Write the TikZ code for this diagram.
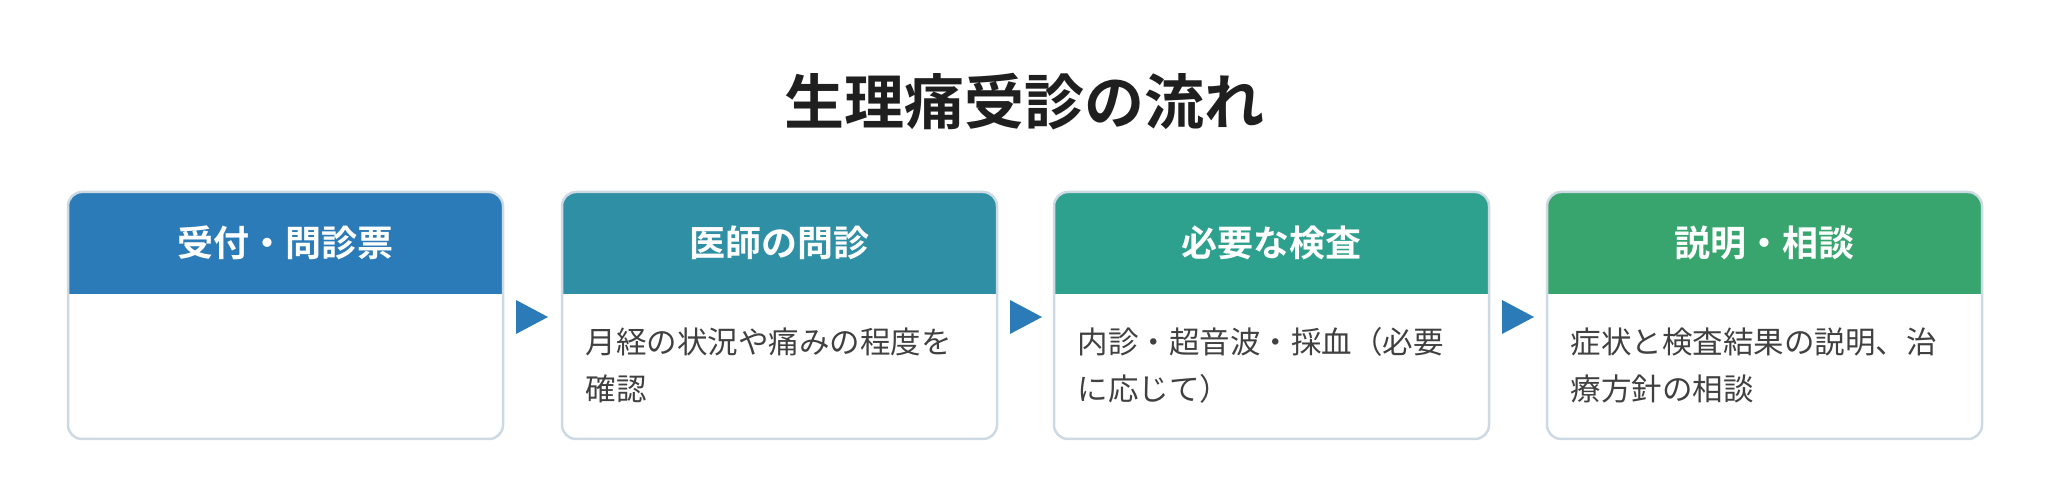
\documentclass[tikz,border=0pt]{standalone}
\usepackage{fontspec}
\setmainfont{Noto Sans CJK JP}
\newfontfamily\cjkb{Noto Sans CJK JP Bold}
\begin{document}
\begin{tikzpicture}[x=1pt,y=1pt,
 hd/.style={font=\cjkb\fontsize{36}{40}\selectfont,text=white},
 bd/.style={font=\fontsize{30.5}{47}\selectfont,text=black!75,anchor=north west,align=left}]
\definecolor{c1}{HTML}{2B7BB8}\definecolor{c2}{HTML}{2E8FA5}
\definecolor{c3}{HTML}{2EA08E}\definecolor{c4}{HTML}{38A56E}
\definecolor{bord}{HTML}{CDD9E3}
\useasboundingbox (0,0) rectangle (2048,502);
\node[font=\cjkb\fontsize{60}{66}\selectfont,text=black!88] (title) at (1024,400) {生理痛受診の流れ};
\foreach \i/\x/\c/\h in {1/68/c1/受付・問診票,2/562/c2/医師の問診,3/1054/c3/必要な検査,4/1547/c4/説明・相談}{
  \begin{scope}
  \clip[rounded corners=14] (\x,63) rectangle ++(435,247);
  \fill[\c] (\x,208) rectangle ++(435,102);
  \end{scope}
  \draw[bord,line width=2.5,rounded corners=14] (\x,63) rectangle ++(435,247);
  \node[hd] (h\i) at (\x+217.5,259) {\h};
  \coordinate (b\i) at (\x+20,178);
}
\node[bd] (t2) at (b2) {月経の状況や痛みの程度を\\確認};
\node[bd] (t3) at (b3) {内診・超音波・採血（必要\\に応じて）};
\node[bd] (t4) at (b4) {症状と検査結果の説明、治\\療方針の相談};
\foreach \x in {516,1010,1502}{
  \fill[c1] (\x,202) -- (\x,168) -- (\x+32,185) -- cycle;
}
\end{tikzpicture}
\end{document}
